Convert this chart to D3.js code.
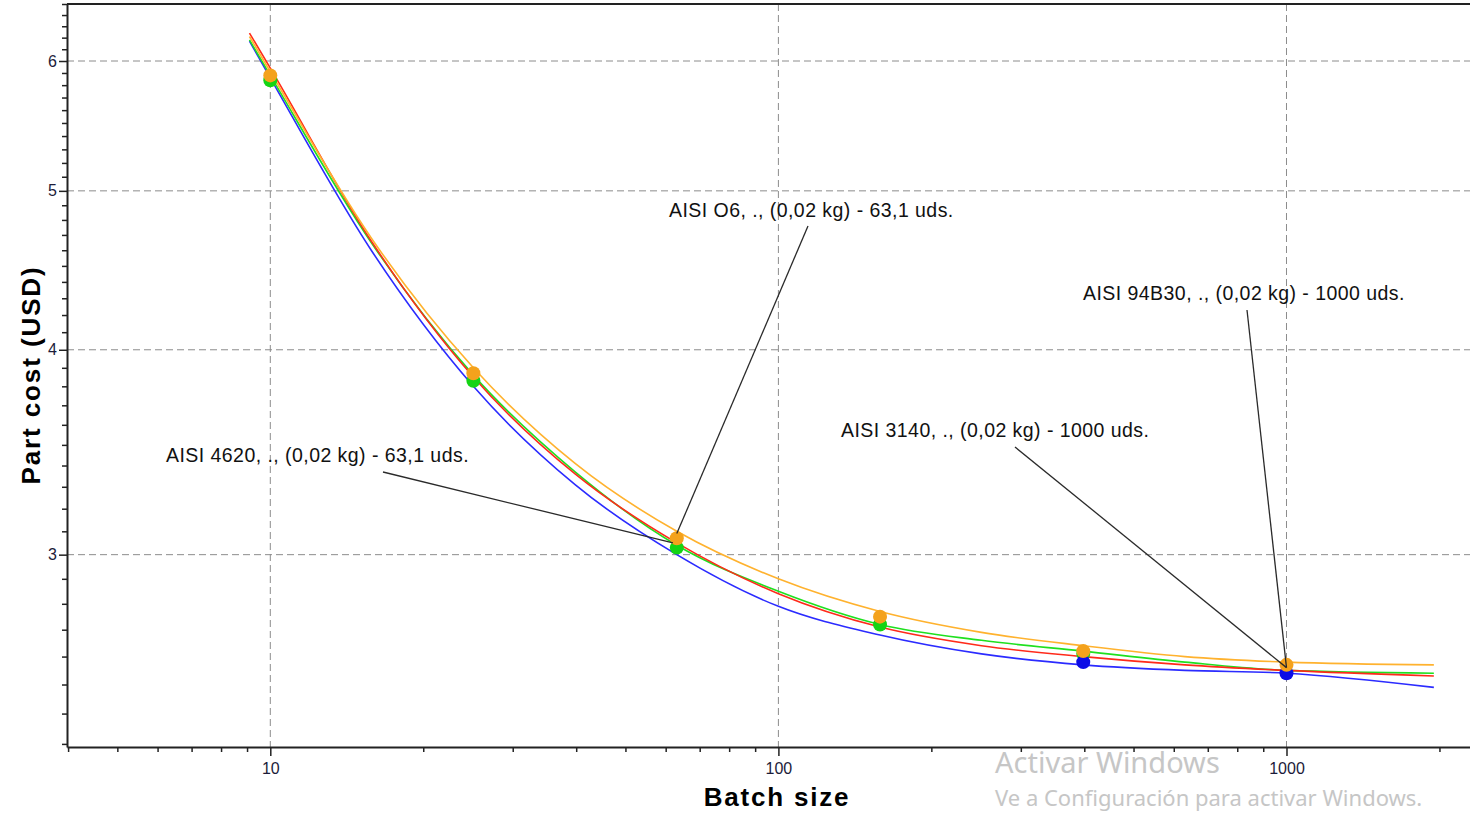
<!DOCTYPE html>
<html lang="es">
<head>
<meta charset="UTF-8">
<title>Part cost vs batch size</title>
<script src="https://d3js.org/d3.v7.min.js"></script>
<style>
  body { margin: 0; background: #fff; }
  svg { display: block; font-family: "Liberation Sans", Arial, sans-serif; }
</style>
</head>
<body>
<div id="chart"></div>
<script>
var curveBatch = [9.1, 10, 15.8, 25.1, 39.8, 63.1, 100, 158.5, 251, 398, 631, 1000, 1950];
var redCost    = [6.24, 5.94, 4.66, 3.85, 3.36, 3.05, 2.84, 2.71, 2.64, 2.60, 2.57, 2.55, 2.53];
var greenCost  = [6.18, 5.88, 4.65, 3.86, 3.37, 3.04, 2.85, 2.72, 2.66, 2.62, 2.58, 2.55, 2.54];
var blueCost   = [6.17, 5.86, 4.60, 3.80, 3.31, 3.00, 2.79, 2.68, 2.61, 2.57, 2.55, 2.54, 2.49];
var orangeCost = [6.21, 5.91, 4.68, 3.90, 3.41, 3.10, 2.90, 2.77, 2.69, 2.64, 2.60, 2.58, 2.57];

// calculated points (dots)
var pointBatch   = [10, 25.1, 63.1, 158.5, 398.1, 1000];
var greenPoints  = [5.84, 3.83, 3.03, 2.72, 2.61, null];
var bluePoints   = [null, null, null, null, 2.58, 2.54];
var orangePoints = [5.88, 3.87, 3.07, 2.75, 2.62, 2.57];

// tick labels
var xLabels = [10, 100, 1000];
var yLabels = [3, 4, 5, 6];

// callouts
var noteText  = ["AISI O6, ., (0,02 kg) - 63,1 uds.",
                 "AISI 94B30, ., (0,02 kg) - 1000 uds.",
                 "AISI 3140, ., (0,02 kg) - 1000 uds.",
                 "AISI 4620, ., (0,02 kg) - 63,1 uds."];
var noteBatch = [63.1, 1000, 1000, 62];
var noteCost  = [3.09, 2.56, 2.56, 3.05];
// label placement: text x, text baseline, leader start x, leader start y
var noteLayout = [[669, 217, 808, 226], [1083, 300, 1247, 310], [841, 437, 1015, 447], [166, 462, 383, 472]];

var W = 1470, H = 813;
var plot = { left: 67, top: 4, right: 1470, bottom: 747 };

var svg = d3.select("#chart").append("svg").attr("width", W).attr("height", H);

var x = d3.scaleLog().domain([3.98, 2297]).range([plot.left, plot.right]);
var y = d3.scaleLog().domain([2.29, 6.5]).range([plot.bottom, plot.top]);

// dashed grid on the decades / whole units
svg.append("g").selectAll("line").data(xLabels).join("line")
    .attr("x1", d => x(d)).attr("x2", d => x(d))
    .attr("y1", plot.top).attr("y2", plot.bottom)
    .attr("stroke", "#8c8c8c").attr("stroke-dasharray", "7,4");
svg.append("g").selectAll("line").data(yLabels).join("line")
    .attr("x1", plot.left).attr("x2", plot.right)
    .attr("y1", d => y(d)).attr("y2", d => y(d))
    .attr("stroke", "#8c8c8c").attr("stroke-dasharray", "7,4");

// x axis
var gx = svg.append("g")
    .attr("transform", "translate(0," + plot.bottom + ")")
    .call(d3.axisBottom(x).tickValues(x.ticks()).tickSize(5).tickSizeOuter(0)
        .tickFormat(d => xLabels.includes(d) ? d : ""));
gx.selectAll(".tick line").filter(d => xLabels.includes(d)).attr("y2", 9);
gx.selectAll(".tick text").attr("y", 16).attr("font-size", 16)
    .attr("font-family", "Liberation Sans, Arial, sans-serif").attr("fill", "#1c1c3a");

// y axis
var yTicks = d3.range(23, 66).map(d => d / 10);
var gy = svg.append("g")
    .attr("transform", "translate(" + plot.left + ",0)")
    .call(d3.axisLeft(y).tickValues(yTicks).tickSize(5).tickSizeOuter(0).tickPadding(5)
        .tickFormat(d => yLabels.includes(d) ? d : ""));
gy.selectAll(".tick line").filter(d => yLabels.includes(d)).attr("x2", -8);
gy.selectAll(".tick text").attr("x", -10).attr("font-size", 16)
    .attr("font-family", "Liberation Sans, Arial, sans-serif").attr("fill", "#1c1c3a");

svg.selectAll(".domain").attr("stroke", "#222").attr("stroke-width", 2);
svg.selectAll(".tick line").attr("stroke", "#222").attr("stroke-width", 1.5);

// top frame
svg.append("line").attr("x1", plot.left).attr("x2", plot.right)
    .attr("y1", plot.top).attr("y2", plot.top)
    .attr("stroke", "#222").attr("stroke-width", 2);

// curves
var curves = [
    { values: blueCost, color: "#2b2bff" },
    { values: greenCost, color: "#1fe01f" },
    { values: redCost, color: "#ff2a1a" },
    { values: orangeCost, color: "#ffb22e" }
];
var line = d3.line()
    .x(d => x(d[0]))
    .y(d => y(d[1]))
    .curve(d3.curveMonotoneX);
svg.append("g").selectAll("path").data(curves).join("path")
    .attr("d", c => line(curveBatch.map((b, i) => [b, c.values[i]])))
    .attr("fill", "none")
    .attr("stroke", c => c.color)
    .attr("stroke-width", 1.6);

// dots
var dotSets = [
    { values: greenPoints, color: "#14d414" },
    { values: bluePoints, color: "#0c0ce6" },
    { values: orangePoints, color: "#f4a21c" }
];
dotSets.forEach(function (s) {
    var pts = pointBatch.map((b, i) => [b, s.values[i]]).filter(p => p[1] != null);
    svg.append("g").selectAll("circle").data(pts).join("circle")
        .attr("cx", d => x(d[0]))
        .attr("cy", d => y(d[1]))
        .attr("r", 7)
        .attr("fill", s.color);
});

// callouts
var notes = svg.append("g");
noteText.forEach(function (t, i) {
    var L = noteLayout[i];
    notes.append("line")
        .attr("x1", L[2]).attr("y1", L[3])
        .attr("x2", x(noteBatch[i])).attr("y2", y(noteCost[i]))
        .attr("stroke", "#2a2a2a").attr("stroke-width", 1.3);
    notes.append("text")
        .attr("x", L[0]).attr("y", L[1])
        .attr("font-size", 19.5)
        .attr("letter-spacing", "0.45px")
        .attr("fill", "#111")
        .text(t);
});

// axis titles
svg.append("text")
    .attr("x", 777).attr("y", 806)
    .attr("text-anchor", "middle")
    .attr("font-size", 26).attr("font-weight", "bold")
    .attr("letter-spacing", "1.8px")
    .text("Batch size");
svg.append("text")
    .attr("transform", "translate(40,375) rotate(-90)")
    .attr("text-anchor", "middle")
    .attr("font-size", 26).attr("font-weight", "bold")
    .attr("letter-spacing", "1.9px")
    .text("Part cost (USD)");

// OS watermark visible on the screenshot
svg.append("text")
    .attr("x", 995).attr("y", 773)
    .attr("font-family", "Noto Sans, sans-serif")
    .attr("font-size", 29).attr("fill", "#c6c6c6")
    .text("Activar Windows");
svg.append("text")
    .attr("x", 995).attr("y", 806)
    .attr("font-family", "Noto Sans, sans-serif")
    .attr("font-size", 22).attr("fill", "#c6c6c6")
    .text("Ve a Configuración para activar Windows.");
</script>
</body>
</html>
